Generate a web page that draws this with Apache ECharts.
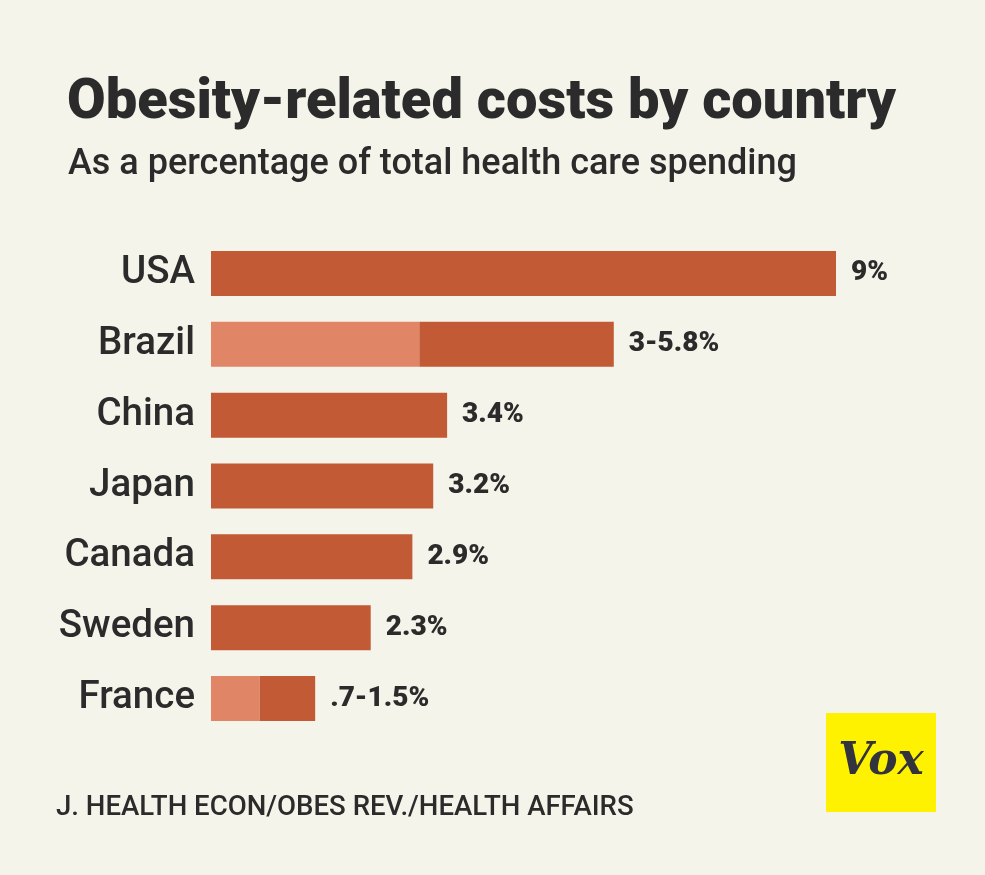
<!DOCTYPE html>
<html><head><meta charset="utf-8">
<style>html,body{margin:0;padding:0;background:#f4f4ea}#c{width:985px;height:875px}</style>
<script src="https://cdn.jsdelivr.net/npm/echarts@6/dist/echarts.min.js"></script>
</head><body><div id="c"></div>
<script>
const countries = ['USA','Brazil','China','Japan','Canada','Sweden','France'];
const lowVals  = [null, 3, null, null, null, null, 0.7];
const highVals = [9, 5.8, 3.4, 3.2, 2.9, 2.3, 1.5];
const valueLabels = ['9%','3-5.8%','3.4%','3.2%','2.9%','2.3%','.7-1.5%'];

const lowSeries = lowVals.map(v => v == null ? 0 : v);
const restSeries = highVals.map((v,i) => +(v - lowSeries[i]).toFixed(3));

const chart = echarts.init(document.getElementById('c'));
chart.setOption({
  backgroundColor: '#f4f4ea',
  animation: false,
  title: [
    {text: 'Obesity-related costs by country', left: 62, top: 71,
     textStyle: {fontFamily: 'Roboto', fontWeight: 900, fontSize: 56, color: '#2b2b2b'}},
    {text: 'As a percentage of total health care spending', left: 63, top: 142,
     textStyle: {fontFamily: 'Roboto', fontWeight: 500, fontSize: 36, color: '#2b2b2b'}},
    {text: 'J. HEALTH ECON/OBES REV./HEALTH AFFAIRS', left: 51, top: 789,
     textStyle: {fontFamily: 'Roboto', fontWeight: 500, fontSize: 27.6, color: '#2b2b2b'}}
  ],
  grid: {left: 211, right: 149, top: 238, bottom: 141},
  xAxis: {type: 'value', min: 0, max: 9, show: false},
  yAxis: {type: 'category', data: countries, inverse: true,
    axisLine: {show: false}, axisTick: {show: false},
    axisLabel: {margin: 16, fontFamily: 'Roboto', fontWeight: 500, fontSize: 38.5, color: '#2b2b2b', padding: [4,0,0,0]}},
  series: [
    {type: 'bar', stack: 's', data: lowSeries, barWidth: 45,
     itemStyle: {color: '#e08566'}},
    {type: 'bar', stack: 's', data: restSeries, barWidth: 45,
     itemStyle: {color: '#c25b35'},
     label: {show: true, position: 'right', distance: 15,
       formatter: p => valueLabels[p.dataIndex],
       fontFamily: 'Roboto', fontWeight: 900, fontSize: 28, color: '#2b2b2b'}}
  ],
  graphic: [
    {type: 'rect', shape: {x: 826, y: 713, width: 110, height: 99}, style: {fill: '#fff200'}},
    {type: 'text', x: 881, y: 763, style: {text: 'Vox', fontFamily: 'DejaVu Serif', fontStyle: 'italic', fontWeight: 'bold', fontSize: 44, fill: '#33333d', align: 'center', verticalAlign: 'middle'}}
  ]
});
</script></body></html>
